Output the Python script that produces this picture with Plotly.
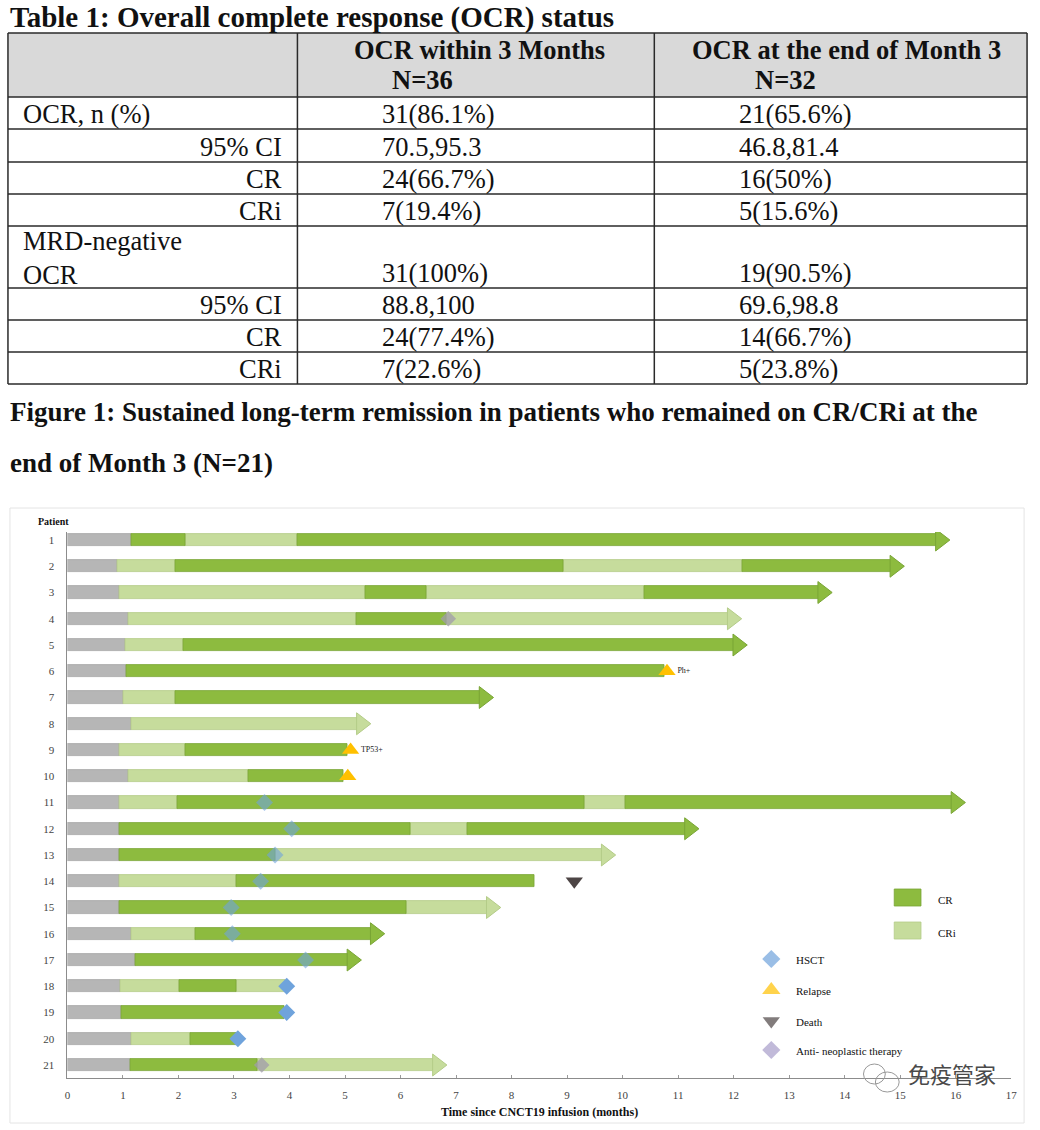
import plotly.graph_objects as go

W, H = 1040, 1130

# ---------------- Table data ----------------
table_title = "Table 1: Overall complete response (OCR) status"
col_headers = ["OCR within 3 Months", "OCR at the end of Month 3"]
col_n = ["N=36", "N=32"]
row_labels = ["OCR, n (%)", "95% CI", "CR", "CRi", "MRD-negative<br>OCR", "95% CI", "CR", "CRi"]
row_is_sub = [False, True, True, True, False, True, True, True]
ocr_within_3m = ["31(86.1%)", "70.5,95.3", "24(66.7%)", "7(19.4%)", "31(100%)", "88.8,100", "24(77.4%)", "7(22.6%)"]
ocr_end_m3 = ["21(65.6%)", "46.8,81.4", "16(50%)", "5(15.6%)", "19(90.5%)", "69.6,98.8", "14(66.7%)", "5(23.8%)"]

figure_title = ["Figure 1: Sustained long-term remission in patients who remained on CR/CRi at the",
                "end of Month 3 (N=21)"]

# ---------------- Swimmer data (months since infusion) ----------------
patients = list(range(1, 22))
states = [
    ["Pre", "CR", "CRi", "CR"],
    ["Pre", "CRi", "CR", "CRi", "CR"],
    ["Pre", "CRi", "CR", "CRi", "CR"],
    ["Pre", "CRi", "CR", "CRi"],
    ["Pre", "CRi", "CR"],
    ["Pre", "CR"],
    ["Pre", "CRi", "CR"],
    ["Pre", "CRi"],
    ["Pre", "CRi", "CR"],
    ["Pre", "CRi", "CR"],
    ["Pre", "CRi", "CR", "CRi", "CR"],
    ["Pre", "CR", "CRi", "CR"],
    ["Pre", "CR", "CRi"],
    ["Pre", "CRi", "CR"],
    ["Pre", "CR", "CRi"],
    ["Pre", "CRi", "CR"],
    ["Pre", "CR"],
    ["Pre", "CRi", "CR", "CRi"],
    ["Pre", "CR"],
    ["Pre", "CRi", "CR"],
    ["Pre", "CR", "CRi"],
]
times = [
    [0, 1.16, 2.13, 4.14, 15.92],
    [0, 0.90, 1.94, 8.94, 12.15, 15.10],
    [0, 0.93, 5.37, 6.46, 10.40, 13.80],
    [0, 1.09, 5.20, 6.83, 12.17],
    [0, 1.04, 2.09, 12.27],
    [0, 1.06, 10.75],
    [0, 1.01, 1.94, 7.70],
    [0, 1.16, 5.49],
    [0, 0.93, 2.13, 5.04],
    [0, 1.09, 3.26, 4.98],
    [0, 0.93, 1.98, 9.32, 10.05, 16.20],
    [0, 0.94, 6.17, 7.20, 11.40],
    [0, 0.94, 3.74, 9.90],
    [0, 0.93, 3.05, 8.42],
    [0, 0.94, 6.11, 7.83],
    [0, 1.16, 2.30, 5.74],
    [0, 1.22, 5.32],
    [0, 0.95, 2.01, 3.04, 3.92],
    [0, 0.97, 3.90],
    [0, 1.16, 2.22, 3.04],
    [0, 1.13, 3.43, 6.86],
]
ongoing = [True, True, True, True, True, False, True, True, False, False, True,
           True, True, False, True, True, True, False, False, False, True]

hsct_patient = [11, 12, 13, 14, 15, 16, 17, 18, 19, 20]
hsct_time = [3.55, 4.04, 3.74, 3.48, 2.95, 2.97, 4.29, 3.95, 3.95, 3.07]
relapse_patient = [6, 9, 10]
relapse_time = [10.80, 5.10, 5.05]
relapse_note = ["Ph+", "TP53+", ""]
death_patient = [14]
death_time = [9.13]
antineo_patient = [4, 21]
antineo_time = [6.86, 3.50]
x_ticks = list(range(0, 18))

x_title = "Time since CNCT19 infusion (months)"
legend_states = ["CR", "CRi"]
legend_events = ["HSCT", "Relapse", "Death", "Anti- neoplastic therapy"]

# ---------------- Styles ----------------
SERIF = "Liberation Serif"
state_fill = {"Pre": "#b6b6b6", "CR": "#8dbb3f", "CRi": "#c6dc9c"}
state_line = {"Pre": "#a6a6a6", "CR": "#79a535", "CRi": "#b4cc88"}
HSCT_C, RELAPSE_C, DEATH_C, ANTI_C = "#6fa3dc", "#ffc000", "#4d4545", "#a69cc9"

# geometry of main plot (pixels)
X0_PX, X17_PX = 65, 1017
Y_TOP_PX, Y_BOT_PX = 532, 1078
months_per_px = 17 / (X17_PX - X0_PX)
ARROW_SIZE = 19
arrow_off = (ARROW_SIZE / 2) * 1.1547 * months_per_px

fig = go.Figure()

# ---- bars ----
for st in ["Pre", "CRi", "CR"]:
    ys, bases, lens = [], [], []
    for p, sts, ts, og in zip(patients, states, times, ongoing):
        for i, s in enumerate(sts):
            if s != st:
                continue
            a, b = ts[i], ts[i + 1]
            if og and i == len(sts) - 1:
                b = b - arrow_off
            ys.append(p)
            bases.append(a)
            lens.append(b - a)
    fig.add_trace(go.Bar(orientation="h", y=ys, x=lens, base=bases, width=0.46,
                         marker=dict(color=state_fill[st], line=dict(color=state_line[st], width=0.8)),
                         xaxis="x", yaxis="y", showlegend=False, hoverinfo="skip"))

# ---- arrow heads ----
for st in ["CRi", "CR"]:
    ax, ay = [], []
    for p, sts, ts, og in zip(patients, states, times, ongoing):
        if og and sts[-1] == st:
            ax.append(ts[-1] - arrow_off)
            ay.append(p)
    fig.add_trace(go.Scatter(x=ax, y=ay, mode="markers", xaxis="x", yaxis="y",
                             marker=dict(symbol="triangle-right", size=ARROW_SIZE, color=state_fill[st],
                                         line=dict(color=state_line[st], width=1)),
                             showlegend=False, hoverinfo="skip"))

# ---- events ----
end_of = {p: ts[-1] for p, ts in zip(patients, times)}
hsct_op = [1.0 if t >= end_of[p] - 0.15 else 0.6 for p, t in zip(hsct_patient, hsct_time)]
fig.add_trace(go.Scatter(x=hsct_time, y=hsct_patient, mode="markers", xaxis="x", yaxis="y",
                         marker=dict(symbol="diamond", size=13, color=HSCT_C, opacity=hsct_op,
                                     line=dict(width=0)), showlegend=False, hoverinfo="skip"))
fig.add_trace(go.Scatter(x=antineo_time, y=antineo_patient, mode="markers", xaxis="x", yaxis="y",
                         marker=dict(symbol="diamond", size=12, color="#a09cab", opacity=0.75,
                                     line=dict(width=0)), showlegend=False, hoverinfo="skip"))
fig.add_trace(go.Scatter(x=relapse_time, y=relapse_patient, mode="markers+text", xaxis="x", yaxis="y",
                         text=relapse_note, textposition="middle right",
                         textfont=dict(family=SERIF, size=8, color="#222"),
                         marker=dict(symbol="triangle-up", size=15, color=RELAPSE_C, line=dict(width=0)),
                         showlegend=False, hoverinfo="skip"))
fig.add_trace(go.Scatter(x=death_time, y=death_patient, mode="markers", xaxis="x", yaxis="y",
                         marker=dict(symbol="triangle-down", size=15, color=DEATH_C, line=dict(width=0)),
                         showlegend=False, hoverinfo="skip"))

# ---- legend (pixel overlay axes) ----
shapes = []
annotations = []


def txt(x, y, s, size, bold=False, xanchor="left", yanchor="middle", family=SERIF, color="#111"):
    annotations.append(dict(x=x, y=y, xref="x2", yref="y2", text=(f"<b>{s}</b>" if bold else s),
                            showarrow=False, xanchor=xanchor, yanchor=yanchor,
                            align=xanchor if xanchor != "center" else "center",
                            font=dict(family=family, size=size, color=color)))


for i, st in enumerate(legend_states):
    cy = 898 + i * 33
    shapes.append(dict(type="rect", xref="x2", yref="y2", x0=899, x1=926, y0=cy - 9, y1=cy + 8,
                       fillcolor=state_fill[st], line=dict(color=state_line[st], width=0.8)))
    txt(941, cy + 2, st, 11)

ev_sym = ["diamond", "triangle-up", "triangle-down", "diamond"]
ev_col = [HSCT_C, RELAPSE_C, DEATH_C, ANTI_C]
ev_y = [959, 990, 1021, 1050]
fig.add_trace(go.Scatter(x=[775] * 4, y=ev_y, mode="markers", xaxis="x2", yaxis="y2",
                         marker=dict(symbol=ev_sym, size=[14, 16, 15, 14], color=ev_col, line=dict(width=0)),
                         showlegend=False, hoverinfo="skip"))
for lab, yy in zip(legend_events, ev_y):
    txt(798, yy + 1, lab, 11)

# ---- chart labels ----
txt(33, 521, "Patient", 10, bold=True)
txt((X0_PX + X17_PX) / 2, 1112, x_title, 12, bold=True, xanchor="center")

# chart container
shapes.append(dict(type="rect", xref="x2", yref="y2", x0=7, x1=1030, y0=508, y1=1123,
                   line=dict(color="#e4e4e4", width=1), fillcolor="rgba(0,0,0,0)", layer="below"))

# watermark
shapes.append(dict(type="circle", xref="x2", yref="y2", x0=868, x1=890, y0=1064, y1=1084,
                   line=dict(color="#999", width=1)))
shapes.append(dict(type="circle", xref="x2", yref="y2", x0=880, x1=904, y0=1072, y1=1092,
                   line=dict(color="#999", width=1)))
txt(957, 1073, "免疫管家", 22, family="Noto Sans CJK SC", xanchor="center", color="#4a4a4a")

# ---------------- Table ----------------
TL, C1, C2, TR = 5, 297, 657, 1033
row_lines_y = [33, 97, 129, 162, 194, 226, 288, 320, 352, 384]
shapes.append(dict(type="rect", xref="x2", yref="y2", x0=TL, x1=TR, y0=row_lines_y[0], y1=row_lines_y[1],
                   fillcolor="#d9d9d9", line=dict(width=0), layer="below"))
for yy in row_lines_y:
    shapes.append(dict(type="line", xref="x2", yref="y2", x0=TL, x1=TR, y0=yy, y1=yy,
                       line=dict(color="#2a2a2a", width=1.5)))
for xx in [TL, C1, C2, TR]:
    shapes.append(dict(type="line", xref="x2", yref="y2", x0=xx, x1=xx, y0=row_lines_y[0], y1=row_lines_y[-1],
                       line=dict(color="#2a2a2a", width=1.5)))

txt(5, 17, table_title, 29, bold=True)
txt(481, 50, col_headers[0], 26.5, bold=True, xanchor="center")
txt(390, 80, col_n[0], 26.5, bold=True)
txt(851, 50, col_headers[1], 26.5, bold=True, xanchor="center")
txt(757, 80, col_n[1], 26.5, bold=True)

BODY = 26.5
for i, (lab, sub, v1, v2) in enumerate(zip(row_labels, row_is_sub, ocr_within_3m, ocr_end_m3)):
    bottom = row_lines_y[i + 2]
    last_c = bottom - 15
    nl = lab.count("<br>") + 1
    lab_c = last_c - (nl - 1) * 15
    if sub:
        txt(283, lab_c, lab, BODY, xanchor="right")
    else:
        txt(18, lab_c, lab, BODY)
    txt(380, last_c, v1, BODY)
    txt(740, last_c, v2, BODY)

txt(5, 412, figure_title[0], 27, bold=True)
txt(5, 463, figure_title[1], 27, bold=True)

fig.update_layout(
    width=W, height=H, margin=dict(l=0, r=0, t=0, b=0, pad=0),
    paper_bgcolor="white", plot_bgcolor="rgba(0,0,0,0)",
    barmode="overlay", bargap=0, showlegend=False,
    xaxis=dict(domain=[X0_PX / W, X17_PX / W], range=[0, 17], tickvals=x_ticks,
               ticktext=[str(v) for v in x_ticks], showline=True, linecolor="#8c8c8c", linewidth=1,
               ticks="inside", ticklen=3, tickcolor="#9a9a9a", showgrid=False, zeroline=False,
               tickfont=dict(family=SERIF, size=11, color="#444"), ticklabelstandoff=7, anchor="y"),
    yaxis=dict(domain=[1 - Y_BOT_PX / H, 1 - Y_TOP_PX / H], range=[21.495, 0.695],
               tickvals=patients, ticktext=[str(p) for p in patients], showline=True,
               linecolor="#8c8c8c", linewidth=1, ticks="", showgrid=False, zeroline=False,
               tickfont=dict(family=SERIF, size=11, color="#444"), ticklabelstandoff=10, anchor="x"),
    xaxis2=dict(domain=[0, 1], range=[0, W], visible=False, anchor="y2", fixedrange=True),
    yaxis2=dict(domain=[0, 1], range=[H, 0], visible=False, anchor="x2", fixedrange=True),
    shapes=shapes, annotations=annotations,
)

fig.write_html("out.html", config={"displayModeBar": False},
               post_script="document.body.style.margin='0';document.body.style.overflow='hidden';")
